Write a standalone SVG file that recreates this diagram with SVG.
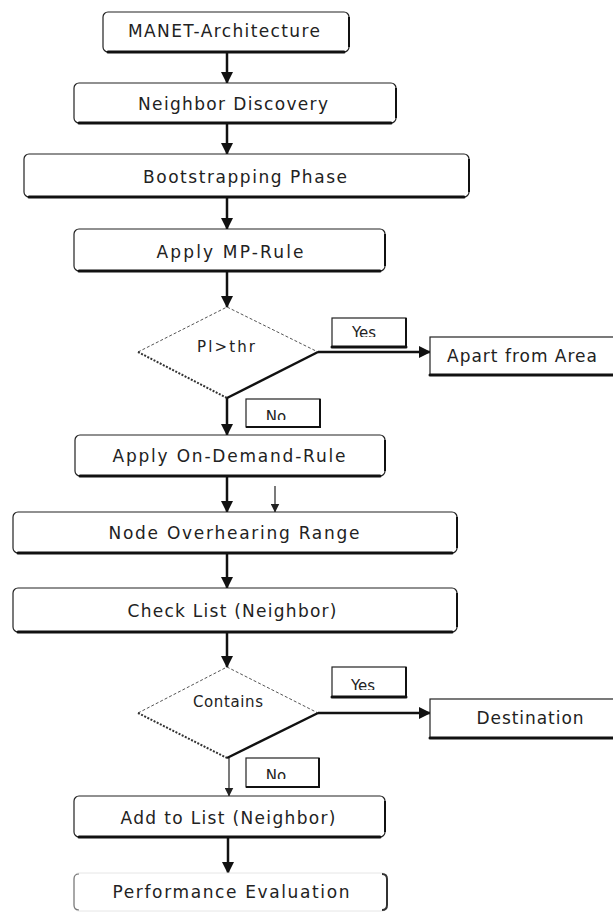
<svg xmlns="http://www.w3.org/2000/svg" width="613" height="912" viewBox="0 0 613 912">
<style>
  .box{fill:#fff;stroke:#222;stroke-width:1.2}
  .sh{fill:none;stroke:#111;stroke-width:3;stroke-linecap:round}
  .shr{fill:none;stroke:#111;stroke-width:2}
  .t{font-family:"DejaVu Sans","Liberation Sans",sans-serif;font-size:17px;fill:#222;text-anchor:middle}
  .ts{font-family:"DejaVu Sans","Liberation Sans",sans-serif;font-size:15px;fill:#222;text-anchor:middle}
  .dtop{fill:none;stroke:#555;stroke-width:1;stroke-dasharray:3 2}
  .dbl{fill:none;stroke:#333;stroke-width:2;stroke-dasharray:2 1.5}
  .dbr{fill:none;stroke:#111;stroke-width:2.5}
  .c{fill:none;stroke:#111;stroke-width:2.5}
  .cthin{fill:none;stroke:#222;stroke-width:1.2}
</style>
<defs>
  <marker id="ah" markerUnits="userSpaceOnUse" markerWidth="12" markerHeight="12" viewBox="0 0 12 12" refX="11" refY="6" orient="auto">
    <path d="M0,0 L12,6 L0,12 Z" fill="#111"/>
  </marker>
  <marker id="ahs" markerUnits="userSpaceOnUse" markerWidth="9" markerHeight="9" viewBox="0 0 9 9" refX="8.5" refY="4.5" orient="auto">
    <path d="M0,0 L9,4.5 L0,9 Z" fill="#222"/>
  </marker>
  <clipPath id="cy1"><rect x="330" y="315" width="80" height="22"/></clipPath>
  <clipPath id="cn1"><rect x="244" y="396" width="80" height="24"/></clipPath>
  <clipPath id="cy2"><rect x="330" y="664" width="80" height="26"/></clipPath>
  <clipPath id="cn2"><rect x="243" y="755" width="80" height="24"/></clipPath>
</defs>

<g id="connectors">
  <path class="c" d="M227,52 V83" marker-end="url(#ah)"/>
  <path class="c" d="M227,123 V154" marker-end="url(#ah)"/>
  <path class="c" d="M227,197 V229" marker-end="url(#ah)"/>
  <path class="c" d="M227,271 V307" marker-end="url(#ah)"/>
  <path class="c" d="M318,352 H430" marker-end="url(#ah)"/>
  <path class="c" d="M227,398 V435" marker-end="url(#ah)"/>
  <path class="c" d="M227,476 V512" marker-end="url(#ah)"/>
  <path class="cthin" d="M275,486 V512" marker-end="url(#ahs)"/>
  <path class="c" d="M227,553 V588" marker-end="url(#ah)"/>
  <path class="c" d="M227,632 V667" marker-end="url(#ah)"/>
  <path class="c" d="M318,713 H430" marker-end="url(#ah)"/>
  <path class="cthin" d="M229,758 V796" marker-end="url(#ahs)"/>
  <path class="c" d="M228,837 V873" marker-end="url(#ah)"/>
</g>

<g id="n-manet">
  <rect class="box" x="103" y="12" width="246" height="40" rx="5"/>
  <path class="sh" d="M108,52 H344"/><path class="shr" d="M349,17 V47"/>
  <text class="t" x="224" y="37" textLength="192" lengthAdjust="spacing">MANET-Architecture</text>
</g>

<g id="n-neighbor">
  <rect class="box" x="74" y="83" width="322" height="40" rx="5"/>
  <path class="sh" d="M79,123 H391"/><path class="shr" d="M396,88 V118"/>
  <text class="t" x="233" y="110" textLength="190" lengthAdjust="spacing">Neighbor Discovery</text>
</g>

<g id="n-boot">
  <rect class="box" x="24" y="154" width="445" height="43" rx="5"/>
  <path class="sh" d="M29,197 H464"/><path class="shr" d="M469,159 V192"/>
  <text class="t" x="245" y="183" textLength="204" lengthAdjust="spacing">Bootstrapping Phase</text>
</g>

<g id="n-mp">
  <rect class="box" x="74" y="229" width="311" height="42" rx="5"/>
  <path class="sh" d="M79,271 H380"/><path class="shr" d="M385,234 V266"/>
  <text class="t" x="230" y="258" textLength="147" lengthAdjust="spacing">Apply MP-Rule</text>
</g>

<g id="n-d1">
  <path class="dtop" d="M138,352 L227,307 L318,352"/>
  <path class="dbl" d="M138,352 L227,398"/>
  <path class="dbr" d="M227,398 L318,352"/>
  <text class="ts" x="226" y="352" textLength="58" lengthAdjust="spacing">Pl&gt;thr</text>
</g>

<g id="l-yes1">
  <rect class="box" x="332" y="318" width="74" height="29"/>
  <path class="sh" d="M332,347 H406"/><path class="shr" d="M406,318 V347"/>
  <text class="ts" x="364" y="338" clip-path="url(#cy1)">Yes</text>
</g>

<g id="n-apart">
  <rect class="box" x="430" y="337" width="190" height="38"/>
  <path class="sh" d="M430,375 H613"/>
  <text class="t" x="522" y="362" textLength="150" lengthAdjust="spacing">Apart from Area</text>
</g>

<g id="l-no1">
  <rect class="box" x="246" y="399" width="74" height="28"/>
  <path class="shr" d="M246,427 H320 V399"/>
  <text class="ts" x="276" y="422" clip-path="url(#cn1)">No</text>
</g>

<g id="n-ondemand">
  <rect class="box" x="75" y="435" width="310" height="41" rx="5"/>
  <path class="sh" d="M80,476 H380"/><path class="shr" d="M385,440 V471"/>
  <text class="t" x="229" y="462" textLength="233" lengthAdjust="spacing">Apply On-Demand-Rule</text>
</g>

<g id="n-overhear">
  <rect class="box" x="13" y="512" width="444" height="41" rx="5"/>
  <path class="sh" d="M18,553 H452"/><path class="shr" d="M457,517 V548"/>
  <text class="t" x="234" y="539" textLength="251" lengthAdjust="spacing">Node Overhearing Range</text>
</g>

<g id="n-check">
  <rect class="box" x="13" y="588" width="444" height="44" rx="5"/>
  <path class="sh" d="M18,632 H452"/><path class="shr" d="M457,593 V627"/>
  <text class="t" x="232" y="617" textLength="209" lengthAdjust="spacing">Check List (Neighbor)</text>
</g>

<g id="n-d2">
  <path class="dtop" d="M138,713 L227,667 L318,713"/>
  <path class="dbl" d="M138,713 L227,758"/>
  <path class="dbr" d="M227,758 L318,713"/>
  <text class="ts" x="228" y="707" textLength="70" lengthAdjust="spacing">Contains</text>
</g>

<g id="l-yes2">
  <rect class="box" x="332" y="667" width="74" height="30"/>
  <path class="sh" d="M332,697 H406"/><path class="shr" d="M406,667 V697"/>
  <text class="ts" x="363" y="691" clip-path="url(#cy2)">Yes</text>
</g>

<g id="n-dest">
  <rect class="box" x="430" y="699" width="190" height="39"/>
  <path class="sh" d="M430,738 H613"/>
  <text class="t" x="530" y="724" textLength="107" lengthAdjust="spacing">Destination</text>
</g>

<g id="l-no2">
  <rect class="box" x="246" y="758" width="73" height="29"/>
  <path class="shr" d="M246,787 H319 V758"/>
  <text class="ts" x="276" y="781" clip-path="url(#cn2)">No</text>
</g>

<g id="n-add">
  <rect class="box" x="74" y="796" width="311" height="41" rx="5"/>
  <path class="sh" d="M79,837 H380"/><path class="shr" d="M385,801 V832"/>
  <text class="t" x="228" y="824" textLength="215" lengthAdjust="spacing">Add to List (Neighbor)</text>
</g>

<g id="n-perf">
  <rect x="74" y="873" width="313" height="38" rx="5" fill="#fff" stroke="#e6e6e6" stroke-width="1"/>
  <path d="M79,874 Q74,874 74,879 V905 Q74,910 79,910" fill="none" stroke="#777" stroke-width="1.2"/>
  <path d="M382,874 Q387,874 387,879 V905 Q387,910 382,910" fill="none" stroke="#333" stroke-width="2"/>
  <text class="t" x="231" y="898" textLength="237" lengthAdjust="spacing">Performance Evaluation</text>
</g>
</svg>
